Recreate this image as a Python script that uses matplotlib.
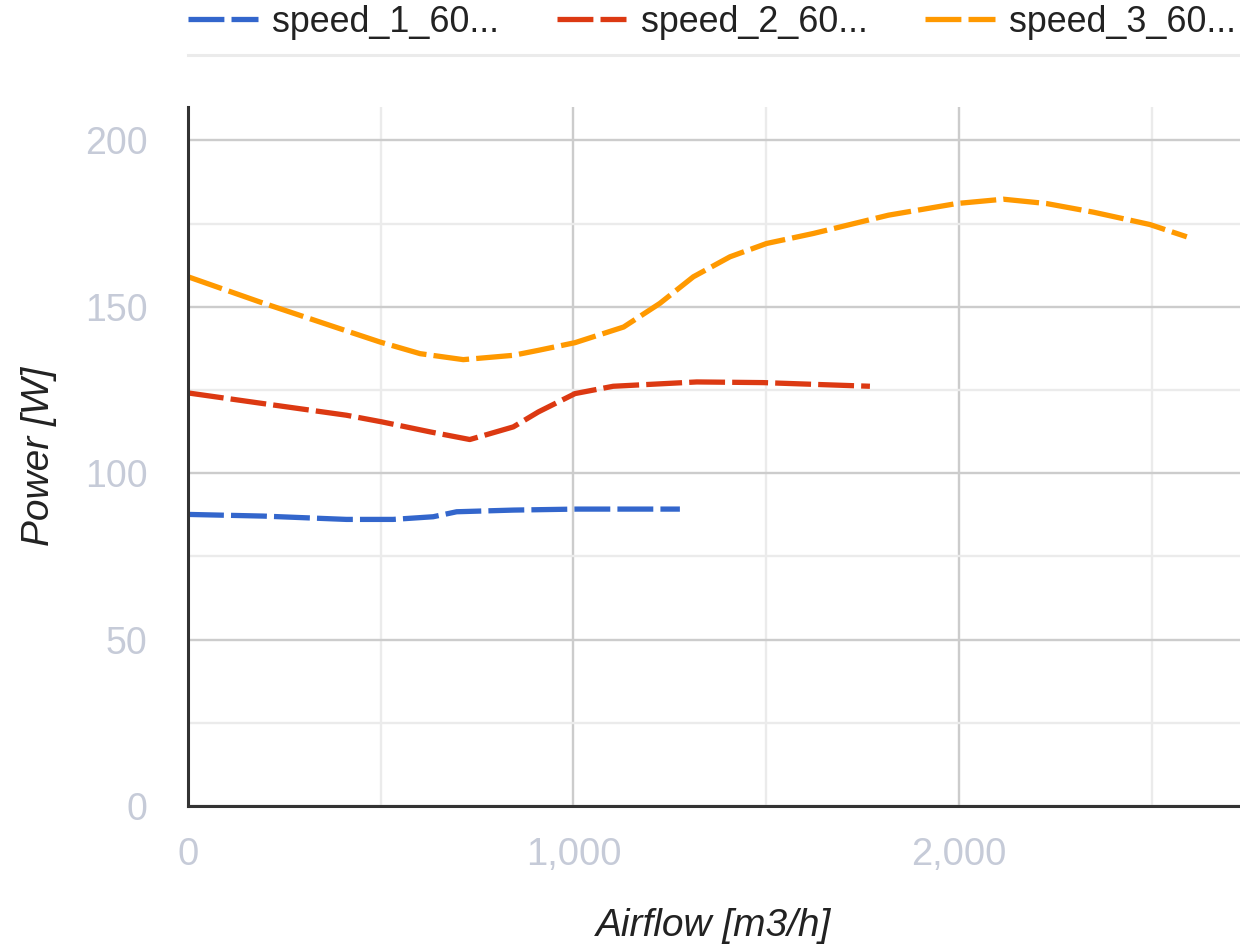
import matplotlib.pyplot as plt
from matplotlib.lines import Line2D
from matplotlib.ticker import MultipleLocator, FuncFormatter

plt.rcParams['font.family'] = ['Liberation Sans', 'DejaVu Sans']

# values
airflow_1 = [0, 195, 411, 532, 636, 697, 844, 1008, 1276]
power_1 = [87.6, 87.1, 86.1, 86.1, 86.9, 88.4, 88.9, 89.2, 89.2]

airflow_2 = [0, 195, 411, 503, 628, 731, 844, 909, 1004, 1103, 1320, 1492, 1769]
power_2 = [124.1, 120.9, 117.4, 115.4, 112.4, 110.1, 113.9, 118.4, 123.9, 126.1, 127.4, 127.2, 126.1]

airflow_3 = [0, 187, 394, 498, 602, 714, 844, 909, 1004, 1130, 1224, 1311, 1406,
             1501, 1622, 1817, 1994, 2115, 2227, 2349, 2495, 2591]
power_3 = [159.0, 151.4, 143.4, 139.4, 135.9, 134.1, 135.4, 136.9, 139.2, 143.9, 151.0,
           159.0, 165.0, 169.0, 172.0, 177.5, 181.0, 182.3, 181.0, 178.4, 174.7, 171.0]

labels = ["speed_1_60...", "speed_2_60...", "speed_3_60..."]
colors = ["#3366cc", "#dc3912", "#ff9900"]

W, H = 1240, 951
fig = plt.figure(figsize=(W / 100, H / 100), dpi=100)
ax = fig.add_axes([188 / W, 1 - 806 / H, 1 - 188 / W, (806 - 107) / H])

series = [(airflow_1, power_1), (airflow_2, power_2), (airflow_3, power_3)]
for (xs, ys), lab, col in zip(series, labels, colors):
    ax.plot(xs, ys, color=col, lw=3.8, dashes=(6.8, 1.35), dash_capstyle="butt",
            solid_capstyle="butt", label=lab)

ax.set_xlim(0, 2729)
ax.set_ylim(0, 210)

ax.xaxis.set_major_locator(MultipleLocator(1000))
ax.xaxis.set_minor_locator(MultipleLocator(500))
ax.yaxis.set_major_locator(MultipleLocator(50))
ax.yaxis.set_minor_locator(MultipleLocator(25))
ax.xaxis.set_major_formatter(FuncFormatter(lambda v, p: f"{int(v):,}"))

ax.set_axisbelow(True)
ax.grid(which="major", color="#cccccc", lw=1.7)
ax.grid(which="minor", color="#ebebeb", lw=1.7)

ax.tick_params(which="both", length=0)
ax.tick_params(axis="y", labelsize=27, labelcolor="#c6cbd8", pad=29)
ax.tick_params(axis="x", labelsize=27.5, labelcolor="#c6cbd8", pad=22)

for s in ["top", "right"]:
    ax.spines[s].set_visible(False)
for s in ["left", "bottom"]:
    ax.spines[s].set_color("#333333")
    ax.spines[s].set_linewidth(2.2)

ax.set_xlabel("Airflow [m3/h]", fontsize=28, style="italic", color="#222222")
ax.set_ylabel("Power [W]", fontsize=28, style="italic", color="#222222")
ax.xaxis.set_label_coords(0.5, (806 - 908) / 699)
ax.yaxis.set_label_coords((57 - 188) / 1052, 0.5)

leg = ax.legend(loc="upper left", bbox_to_anchor=(188 / W, 1 - 5 / H),
                bbox_transform=fig.transFigure, ncol=3, frameon=False,
                fontsize=25.8, borderpad=0, borderaxespad=0,
                handlelength=1.95, handletextpad=0.4, columnspacing=1.6)
for t in leg.get_texts():
    t.set_color("#222222")

# thin separator under the legend
fig.add_artist(Line2D([188 / W, 1], [1 - 55 / H, 1 - 55 / H],
                      transform=fig.transFigure, color="#ebebeb", lw=2.2))

fig.savefig("out.png", dpi=100)
